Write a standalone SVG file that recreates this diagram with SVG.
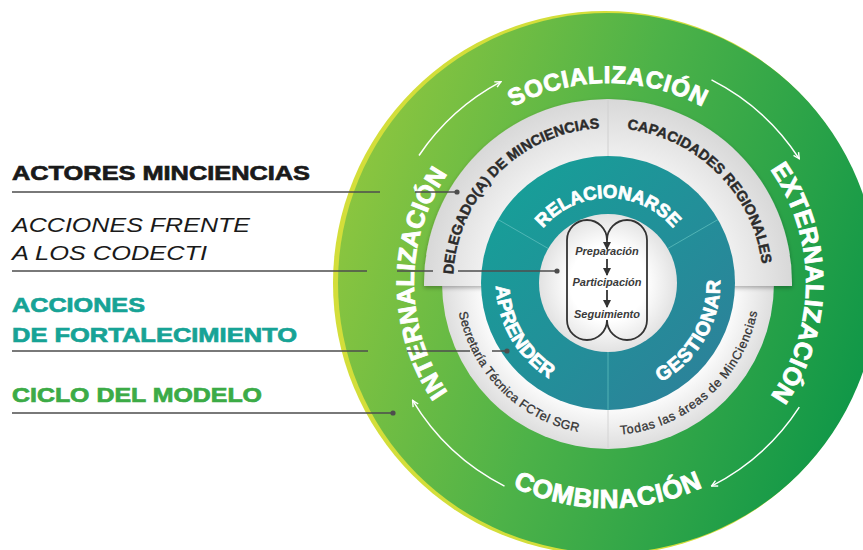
<svg xmlns="http://www.w3.org/2000/svg" width="863" height="550" viewBox="0 0 863 550">
<style>
.lg{font-family:"Liberation Sans",Arial,sans-serif;font-size:21px}
.b{font-weight:bold;stroke-width:0.7}
.ring{font-family:"Liberation Sans",Arial,sans-serif;font-weight:bold;fill:#ffffff;stroke:#ffffff;stroke-width:0.9}
.panel{font-family:"Liberation Sans",Arial,sans-serif;font-weight:bold;font-size:14.5px;fill:#2b2b2b;stroke:#2b2b2b;stroke-width:0.45}
.low{font-family:"Liberation Sans",Arial,sans-serif;font-size:12.5px;fill:#333333;stroke:#333333;stroke-width:0.3}
.teal{font-family:"Liberation Sans",Arial,sans-serif;font-weight:bold;fill:#ffffff;stroke:#ffffff;stroke-width:0.8}
.core{font-family:"Liberation Sans",Arial,sans-serif;font-weight:bold;font-style:italic;font-size:11px;fill:#3a3a3a;text-anchor:middle}
.leader{stroke:#4d4d4d;stroke-width:1.4;fill:none}
.dot{fill:#4d4d4d}
.cyc{stroke:#ffffff;stroke-width:1.5;fill:none;marker-end:url(#chev)}
.div{stroke:#5cbdbc;stroke-width:1;opacity:0.8}
.loop{stroke:#333333;stroke-width:1.8;fill:none}
</style>
<defs>
<linearGradient id="gGreen" gradientUnits="userSpaceOnUse" x1="337" y1="200" x2="879" y2="380">
<stop offset="0" stop-color="#8dc63f"/>
<stop offset="0.45" stop-color="#4db248"/>
<stop offset="1" stop-color="#0d9648"/>
</linearGradient>
<radialGradient id="gPanel" gradientUnits="userSpaceOnUse" cx="608" cy="283" r="184">
<stop offset="0.68" stop-color="#f0f0f0"/>
<stop offset="1" stop-color="#d8d8d8"/>
</radialGradient>
<radialGradient id="gLower" gradientUnits="userSpaceOnUse" cx="608" cy="283" r="166">
<stop offset="0.76" stop-color="#fbfbfb"/>
<stop offset="1" stop-color="#dedede"/>
</radialGradient>
<linearGradient id="gTeal" gradientUnits="userSpaceOnUse" x1="490" y1="170" x2="730" y2="400">
<stop offset="0" stop-color="#15a198"/>
<stop offset="1" stop-color="#2e7f9a"/>
</linearGradient>
<radialGradient id="gCore" gradientUnits="userSpaceOnUse" cx="608" cy="283" r="69">
<stop offset="0.55" stop-color="#ffffff"/>
<stop offset="1" stop-color="#e2e2e2"/>
</radialGradient>
<filter id="shadow" x="-10%" y="-10%" width="120%" height="130%">
<feDropShadow dx="0" dy="2" stdDeviation="2" flood-color="#000000" flood-opacity="0.3"/>
</filter>
<marker id="chev" viewBox="0 0 8 8" refX="7" refY="4" markerWidth="8" markerHeight="8" markerUnits="userSpaceOnUse" orient="auto">
<path d="M1,1 L7,4 L1,7" fill="none" stroke="#ffffff" stroke-width="1.4"/>
</marker>
<marker id="tri" viewBox="0 0 8 8" refX="7" refY="4" markerWidth="8" markerHeight="8" markerUnits="userSpaceOnUse" orient="auto">
<path d="M0,0 L8,4 L0,8 Z" fill="#333333"/>
</marker>
<path id="p-soc" d="M 408,283 A 200 200 0 0 1 808,283"/>
<path id="p-ext" d="M 608,85 A 198 198 0 0 1 608,481"/>
<path id="p-int" d="M 608,477 A 194 194 0 0 1 608,89"/>
<path id="p-com" d="M 383,283 A 225 225 0 0 0 833,283"/>
<path id="p-del" d="M 453,283 A 155 155 0 0 1 608,128"/>
<path id="p-cap" d="M 608,128 A 155 155 0 0 1 763,283"/>
<path id="p-sec" d="M 456,283 A 152 152 0 0 0 608,435"/>
<path id="p-tod" d="M 600,434.8 A 152 152 0 0 0 759.8,291"/>
<path id="p-rel" d="M 523,283 A 85 85 0 0 1 693,283"/>
<path id="p-apr" d="M 511,227 A 112 112 0 0 0 608,395"/>
<path id="p-ges" d="M 608,395 A 112 112 0 0 0 705,227"/>
</defs>

<rect width="863" height="550" fill="#ffffff"/>

<g id="outer-ring">
<circle cx="605" cy="283" r="272" fill="#d3de3a"/>
<circle cx="608" cy="283" r="270" fill="url(#gGreen)"/>
</g>

<g id="lower-ring">
<circle cx="608" cy="283" r="166" fill="url(#gLower)"/>
<line x1="608" y1="352" x2="608" y2="449" stroke="#d4d4d4" stroke-width="1"/>
</g>

<g id="upper-panel">
<path d="M 424,286 L 424,283 A 184 184 0 0 1 792,283 L 792,286 Z" fill="url(#gPanel)" filter="url(#shadow)"/>
<line x1="608" y1="99" x2="608" y2="157" stroke="#d0d0d0" stroke-width="1"/>
</g>

<g id="teal-ring">
<circle cx="608" cy="283" r="127" fill="url(#gTeal)"/>
<line class="div" x1="548.2" y1="248.5" x2="498" y2="219.5"/>
<line class="div" x1="667.8" y1="248.5" x2="718" y2="219.5"/>
<line class="div" x1="608" y1="352" x2="608" y2="410"/>
</g>

<g id="core">
<circle cx="608" cy="283" r="69" fill="url(#gCore)"/>
<path class="loop" d="M 567,320 L 567,240 A 20 20 0 0 1 607,240 A 20 20 0 0 1 647,240 L 647,320 A 20 20 0 0 1 607,320 A 20 20 0 0 1 567,320 Z"/>
<line class="loop" x1="607" y1="238" x2="607" y2="249" marker-end="url(#tri)"/>
<line class="loop" x1="607" y1="259" x2="607" y2="275" marker-end="url(#tri)"/>
<line class="loop" x1="607" y1="290" x2="607" y2="307" marker-end="url(#tri)"/>
<text class="core" x="607" y="255">Preparación</text>
<text class="core" x="607" y="286">Participación</text>
<text class="core" x="607" y="318">Seguimiento</text>
</g>

<g id="cycle-labels">
<text class="ring" font-size="24" letter-spacing="0.7"><textPath href="#p-soc" startOffset="50%" text-anchor="middle">SOCIALIZACIÓN</textPath></text>
<text class="ring" font-size="25" letter-spacing="0.3"><textPath href="#p-ext" startOffset="50%" text-anchor="middle">EXTERNALIZACIÓN</textPath></text>
<text class="ring" font-size="25" letter-spacing="0.2"><textPath href="#p-int" startOffset="50%" text-anchor="middle">INTERNALIZACIÓN</textPath></text>
<text class="ring" font-size="26" letter-spacing="0.7"><textPath href="#p-com" startOffset="50%" text-anchor="middle">COMBINACIÓN</textPath></text>
</g>

<g id="actors">
<text class="panel"><textPath href="#p-del" startOffset="50%" text-anchor="middle">DELEGADO(A) DE MINCIENCIAS</textPath></text>
<text class="panel"><textPath href="#p-cap" startOffset="50%" text-anchor="middle">CAPACIDADES REGIONALES</textPath></text>
<text class="low" letter-spacing="0.25"><textPath href="#p-sec" startOffset="50%" text-anchor="middle">Secretaría Técnica FCTeI SGR</textPath></text>
<text class="low" letter-spacing="0.7"><textPath href="#p-tod" startOffset="50%" text-anchor="middle">Todas las áreas de MinCiencias</textPath></text>
</g>

<g id="strengthening">
<text class="teal" font-size="18.5"><textPath href="#p-rel" startOffset="50%" text-anchor="middle">RELACIONARSE</textPath></text>
<text class="teal" font-size="19.5" letter-spacing="0.2"><textPath href="#p-apr" startOffset="50%" text-anchor="middle">APRENDER</textPath></text>
<text class="teal" font-size="19.5" letter-spacing="1"><textPath href="#p-ges" startOffset="50%" text-anchor="middle">GESTIONAR</textPath></text>
</g>

<g id="connectors">
<path class="cyc" d="M 419,155.5 A 228 228 0 0 1 501,81.7"/>
<path class="cyc" d="M 711.5,79.9 A 228 228 0 0 1 799.3,158.8"/>
<path class="cyc" d="M 799.3,407.2 A 228 228 0 0 1 711.5,486.1"/>
<path class="cyc" d="M 504.5,486.1 A 228 228 0 0 1 412.6,400.4"/>
<path class="leader" d="M 12,192 H 380 M 415,192 H 457"/>
<circle class="dot" cx="457" cy="192" r="2.6"/>
<path class="leader" d="M 12,271 H 367 M 397,271 H 433 M 458,271 H 557"/>
<circle class="dot" cx="557" cy="271" r="2.6"/>
<path class="leader" d="M 12,351 H 368 M 407,351 H 470 M 492,351 H 507"/>
<circle class="dot" cx="507" cy="351" r="2.6"/>
<path class="leader" d="M 12,413 H 393"/>
<circle class="dot" cx="393" cy="413" r="2.6"/>
</g>

<g id="legend">
<text class="lg b" x="12" y="180" fill="#1a1a1a" stroke="#1a1a1a" textLength="298" lengthAdjust="spacingAndGlyphs">ACTORES MINCIENCIAS</text>
<text class="lg" x="12" y="232" fill="#1a1a1a" font-style="italic" textLength="238" lengthAdjust="spacingAndGlyphs">ACCIONES FRENTE</text>
<text class="lg" x="12" y="260" fill="#1a1a1a" font-style="italic" textLength="195" lengthAdjust="spacingAndGlyphs">A LOS CODECTI</text>
<text class="lg b" x="12" y="312" fill="#17a396" stroke="#17a396" textLength="133" lengthAdjust="spacingAndGlyphs">ACCIONES</text>
<text class="lg b" x="12" y="342" fill="#17a396" stroke="#17a396" textLength="285" lengthAdjust="spacingAndGlyphs">DE FORTALECIMIENTO</text>
<text class="lg b" x="12" y="402" fill="#3cab46" stroke="#3cab46" textLength="250" lengthAdjust="spacingAndGlyphs">CICLO DEL MODELO</text>
</g>
</svg>
